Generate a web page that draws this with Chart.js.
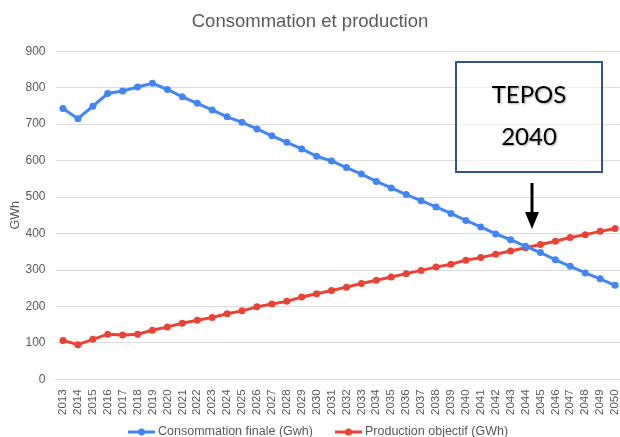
<!DOCTYPE html>
<html>
<head>
<meta charset="utf-8">
<script src="https://cdn.jsdelivr.net/npm/chart.js@4"></script>
<style>
  html, body { margin: 0; padding: 0; background: #fff; }
  #wrap { width: 620px; height: 437px; }
</style>
</head>
<body>
<div id="wrap"><canvas id="chart"></canvas></div>
<script>
const years = [];
for (let y = 2013; y <= 2050; y++) years.push(y);

const consommation = [743, 715, 749, 784, 791, 802, 812, 795, 775, 757, 739, 720, 705, 687, 668, 650, 632, 612,
    599, 581, 563, 543, 525, 507, 490, 473, 455, 436, 418, 399, 383, 365, 348, 328, 310, 292, 276, 258];
const production = [107, 95, 110, 124, 122, 124, 135, 144, 154, 162, 170, 180, 188, 199, 207, 214, 226, 235,
    244, 253, 263, 272, 281, 290, 299, 308, 316, 327, 334, 343, 352, 361, 370, 379, 389, 397, 406, 414];

const BLUE = '#4285F4';
const RED = '#EA4335';
const GREY = '#595959';
const FONT = '"Liberation Sans", Arial, sans-serif';

// encadré TEPOS + flèche, légende en bas
const extras = {
    id: 'extras',
    afterDraw(chart) {
        const ctx = chart.ctx;
        ctx.save();

        // box
        ctx.fillStyle = 'rgba(255,255,255,0.55)';
        ctx.fillRect(456, 62, 146, 110);
        ctx.strokeStyle = '#2F5597';
        ctx.lineWidth = 2;
        ctx.strokeRect(456, 62, 146, 110);

        ctx.font = '24px Lato, "Open Sans", sans-serif';
        ctx.textAlign = 'center';
        ctx.textBaseline = 'middle';
        ctx.shadowColor = 'rgba(0,0,0,0.35)';
        ctx.shadowOffsetX = 1;
        ctx.shadowOffsetY = 1;
        ctx.shadowBlur = 2;
        ctx.fillStyle = '#000';
        ctx.fillText('TEPOS', 529, 95);
        ctx.fillText('2040', 529, 137);
        ctx.shadowColor = 'transparent';

        // arrow
        ctx.strokeStyle = '#000';
        ctx.lineWidth = 3;
        ctx.beginPath();
        ctx.moveTo(532, 183);
        ctx.lineTo(532, 216);
        ctx.stroke();
        ctx.fillStyle = '#000';
        ctx.beginPath();
        ctx.moveTo(525, 212);
        ctx.lineTo(539, 212);
        ctx.lineTo(532, 229);
        ctx.closePath();
        ctx.fill();

        // legend
        ctx.font = '12.5px ' + FONT;
        ctx.textAlign = 'left';
        ctx.textBaseline = 'middle';
        const ly = 432;
        const items = [[128, 0], [335, 1]];
        items.forEach(([x, i]) => {
            const ds = chart.data.datasets[i];
            ctx.strokeStyle = ds.borderColor;
            ctx.lineWidth = 3;
            ctx.beginPath();
            ctx.moveTo(x, ly);
            ctx.lineTo(x + 27, ly);
            ctx.stroke();
            ctx.fillStyle = ds.borderColor;
            ctx.beginPath();
            ctx.arc(x + 13.5, ly, 3.5, 0, Math.PI * 2);
            ctx.fill();
            ctx.fillStyle = GREY;
            ctx.fillText(ds.label, x + 30, ly);
        });
        ctx.restore();
    }
};

const toPoints = arr => arr.map((v, i) => ({ x: years[i], y: v }));

new Chart(document.getElementById('chart'), {
    type: 'line',
    data: {
        datasets: [{
            label: 'Consommation finale (Gwh)',
            data: toPoints(consommation),
            borderColor: BLUE,
            backgroundColor: BLUE,
            borderWidth: 3,
            pointRadius: 3.5,
            pointBorderWidth: 0,
            tension: 0,
            clip: false
        }, {
            label: 'Production objectif (GWh)',
            data: toPoints(production),
            borderColor: RED,
            backgroundColor: RED,
            borderWidth: 3,
            pointRadius: 3.5,
            pointBorderWidth: 0,
            tension: 0,
            clip: false
        }]
    },
    options: {
        responsive: true,
        maintainAspectRatio: false,
        animation: false,
        layout: { autoPadding: false, padding: { left: 0, right: 0, top: 0, bottom: 20 } },
        plugins: {
            legend: { display: false },
            tooltip: { enabled: false },
            title: {
                display: true,
                text: 'Consommation et production',
                color: GREY,
                font: { family: FONT, size: 18.5, weight: 'normal' },
                padding: { top: 11, bottom: 18 }
            }
        },
        scales: {
            x: {
                type: 'linear',
                min: 2012.5,
                max: 2050.33,
                grid: { display: false },
                border: { color: '#d9d9d9' },
                afterBuildTicks(scale) {
                    scale.ticks = years.map(v => ({ value: v }));
                },
                afterFit(scale) {
                    scale.paddingRight = 0;
                    scale.paddingLeft = 0;
                },
                ticks: {
                    color: GREY,
                    autoSkip: false,
                    minRotation: 90,
                    maxRotation: 90,
                    padding: 2,
                    callback: v => String(v),
                    font: { family: FONT, size: 11.5 }
                }
            },
            y: {
                min: 0,
                max: 900,
                afterFit(scale) {
                    scale.width = 55.5;
                },
                ticks: {
                    stepSize: 100,
                    color: GREY,
                    padding: 10,
                    font: { family: FONT, size: 12 }
                },
                grid: { color: '#dcdcdc', drawTicks: false },
                border: { display: false },
                title: {
                    display: true,
                    text: 'GWh',
                    color: GREY,
                    padding: { top: 8, bottom: 0 },
                    font: { family: FONT, size: 12.5 }
                }
            }
        }
    },
    plugins: [extras]
});
</script>
</body>
</html>
